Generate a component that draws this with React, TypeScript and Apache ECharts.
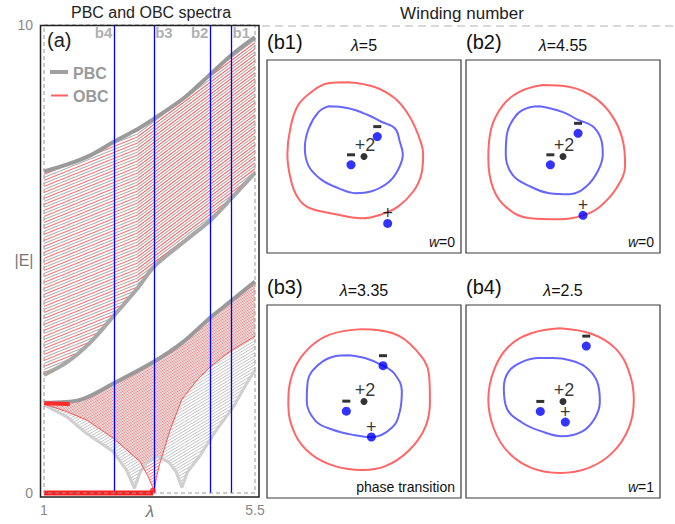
import React, { useEffect, useRef } from 'react';
import * as echarts from 'echarts';

// ---------------- panel (a): spectra ----------------
const lambdaTicks = [1, 5.5];
const energyTicks = [0, 10];
const markLambdas = [5, 4.55, 3.35, 2.5];
const markNames = ['b1', 'b2', 'b3', 'b4'];
const markLabelE = 9.83;

// upper band (PBC + OBC)
const band1Upper = [[1, 6.87], [1.5, 7.02], [2, 7.22], [2.5, 7.51], [3, 7.78], [3.35, 8.0], [4, 8.45], [4.55, 8.95], [5, 9.36], [5.5, 9.74]];
const band1Lower = [[1, 2.52], [1.5, 2.8], [2, 3.23], [2.5, 3.8], [3, 4.38], [3.35, 4.84], [4, 5.38], [4.55, 5.83], [5, 6.3], [5.5, 6.84]];
// lower band
const band2Upper = [[1, 1.93], [1.77, 1.99], [2.5, 2.35], [3.35, 2.81], [3.97, 3.23], [4.55, 3.75], [5, 4.11], [5.5, 4.52]];
const band2PbcLower = [[1, 1.88], [1.48, 1.63], [1.91, 1.27], [2.48, 0.88], [2.76, 0.49], [2.93, 0.1], [3.05, 0.45], [3.2, 0.66], [3.43, 0.78], [3.66, 0.66], [3.82, 0.45], [3.94, 0.12], [4.06, 0.45], [4.33, 0.8], [4.68, 1.35], [5.04, 1.84], [5.36, 2.41], [5.5, 2.62]];
const band2ObcLower = [[1, 1.9], [1.48, 1.74], [1.91, 1.56], [2.48, 1.17], [3.05, 0.67], [3.22, 0.35], [3.35, 0.05], [3.4, 0.35], [3.47, 0.63], [3.69, 1.35], [3.94, 2.0], [4.26, 2.41], [4.55, 2.7], [5, 3.05], [5.5, 3.35]];
const obcBunch = [[1, 1.92], [1.55, 1.9]];
const obcZeroModes = [[1, 0], [3.33, 0]];
const obcZeroEnd = [[3.32, 0.05]];

// ---------------- panels (b1)-(b4): winding ----------------
const panelNames = ['(b1)', '(b2)', '(b3)', '(b4)'];
const panelLambdas = ['5', '4.55', '3.35', '2.5'];
const panelNotes = ['w=0', 'w=0', 'phase transition', 'w=1'];

const b1Red = [[-0.16, 0.77], [0.11, 0.72], [0.32, 0.6], [0.46, 0.43], [0.56, 0.22], [0.61, 0.02], [0.59, -0.19], [0.51, -0.36], [0.35, -0.52], [0.18, -0.6], [-0.02, -0.64], [-0.33, -0.59], [-0.57, -0.53], [-0.68, -0.43], [-0.75, -0.26], [-0.79, 0.02], [-0.76, 0.29], [-0.68, 0.53], [-0.54, 0.67], [-0.37, 0.76]];
const b1Blue = [[-0.37, 0.52], [-0.16, 0.5], [0.04, 0.43], [0.18, 0.36], [0.32, 0.29], [0.37, 0.15], [0.4, 0.02], [0.35, -0.14], [0.25, -0.27], [0.08, -0.36], [-0.09, -0.38], [-0.26, -0.33], [-0.44, -0.24], [-0.57, -0.1], [-0.61, 0.09], [-0.57, 0.29], [-0.47, 0.46]];
const b2Red = [[-0.21, 0.74], [0.07, 0.72], [0.34, 0.6], [0.52, 0.4], [0.62, 0.15], [0.64, -0.09], [0.55, -0.33], [0.38, -0.52], [0.21, -0.61], [-0.03, -0.65], [-0.34, -0.64], [-0.58, -0.53], [-0.72, -0.33], [-0.77, -0.02], [-0.74, 0.29], [-0.62, 0.53], [-0.45, 0.67]];
const b2Blue = [[-0.24, 0.52], [0, 0.46], [0.155, 0.38], [0.31, 0.31], [0.4, 0.15], [0.41, 0.02], [0.36, -0.15], [0.24, -0.31], [0.07, -0.39], [-0.14, -0.38], [-0.34, -0.31], [-0.52, -0.19], [-0.59, 0.02], [-0.58, 0.22], [-0.48, 0.43], [-0.34, 0.51]];
const b3Red = [[-0.02, 0.75], [0.29, 0.71], [0.53, 0.54], [0.67, 0.28], [0.68, 0.0], [0.63, -0.27], [0.46, -0.51], [0.22, -0.67], [-0.02, -0.71], [-0.3, -0.67], [-0.54, -0.55], [-0.71, -0.34], [-0.78, -0.03], [-0.74, 0.28], [-0.6, 0.52], [-0.36, 0.69]];
const b3Blue = [[-0.16, 0.48], [0.01, 0.45], [0.2, 0.37], [0.32, 0.28], [0.39, 0.11], [0.37, -0.1], [0.29, -0.27], [0.08, -0.37], [-0.09, -0.35], [-0.33, -0.29], [-0.5, -0.2], [-0.59, 0.0], [-0.58, 0.21], [-0.47, 0.38], [-0.3, 0.47]];
const b4Red = [[-0.03, 0.76], [0.3, 0.7], [0.54, 0.55], [0.68, 0.31], [0.73, 0.02], [0.68, -0.27], [0.51, -0.53], [0.26, -0.69], [-0.03, -0.74], [-0.32, -0.69], [-0.56, -0.53], [-0.71, -0.29], [-0.77, 0.02], [-0.71, 0.33], [-0.56, 0.57], [-0.32, 0.71]];
const b4Blue = [[-0.11, 0.45], [0.06, 0.43], [0.23, 0.36], [0.35, 0.21], [0.38, 0.0], [0.33, -0.17], [0.2, -0.31], [-0.01, -0.36], [-0.22, -0.31], [-0.42, -0.22], [-0.58, -0.07], [-0.61, 0.14], [-0.56, 0.31], [-0.42, 0.41], [-0.25, 0.45]];
const redLoops = [b1Red, b2Red, b3Red, b4Red];
const blueLoops = [b1Blue, b2Blue, b3Blue, b4Blue];
const minusZeros = [
  [[0.137, 0.206], [-0.134, -0.086]],
  [[0.155, 0.24], [-0.13, -0.086]],
  [[0.196, 0.371], [-0.182, -0.1]],
  [[0.24, 0.574], [-0.234, -0.103]],
];
const plusZeros = [[[0.244, -0.694]], [[0.206, -0.61]], [[0.076, -0.368]], [[0.024, -0.213]]];
const centerPole = [0, 0];
const centerPoleLabel = '+2';

const FONT = 'Liberation Sans, Arial, Helvetica, sans-serif';

function stripe(specs: { color: string; offset: number; width: number }[], tileW: number, tileH: number) {
  const c = document.createElement('canvas');
  c.width = tileW;
  c.height = tileH;
  const ctx = c.getContext('2d');
  if (ctx) {
    for (const s of specs) {
      ctx.strokeStyle = s.color;
      ctx.lineWidth = s.width;
      for (const k of [-1, 0, 1]) {
        const y0 = tileH - s.offset + k * tileH;
        ctx.beginPath();
        ctx.moveTo(0, y0);
        ctx.lineTo(tileW, y0 - tileH);
        ctx.stroke();
      }
    }
  }
  return { image: c, repeat: 'repeat', imageWidth: tileW, imageHeight: tileH } as any;
}

function closed(pts: number[][]) {
  return [...pts, pts[0]];
}

function buildOption() {
  const band1LeftFill = stripe([
    { color: 'rgba(255,75,75,0.8)', offset: 0, width: 1.15 },
    { color: 'rgba(150,150,150,0.75)', offset: 3, width: 1.15 },
  ], 15, 6);
  const band1RightFill = stripe([
    { color: 'rgba(255,75,75,0.85)', offset: 0, width: 1.15 },
    { color: 'rgba(150,150,150,0.75)', offset: 3, width: 1.15 },
  ], 8, 6);
  const band2Gray = stripe([{ color: 'rgba(175,175,175,0.75)', offset: 1.5, width: 1 }], 5, 3);
  const band2Red = stripe([{ color: 'rgba(255,75,75,0.8)', offset: 0, width: 0.9 }], 5, 3);

  const poly = (pts: number[][], fill: any, z: number) => ({
    type: 'custom',
    xAxisIndex: 0,
    yAxisIndex: 0,
    z,
    silent: true,
    data: [[pts[0][0], pts[0][1]]],
    renderItem: (_p: any, api: any) => ({
      type: 'polygon',
      shape: { points: pts.map((p) => api.coord(p)) },
      style: { fill, stroke: 'none' },
    }),
  });
  const edge = (pts: number[][], color: string, width: number, smooth: any, z: number) => ({
    type: 'line',
    xAxisIndex: 0,
    yAxisIndex: 0,
    data: pts,
    symbol: 'none',
    smooth,
    clip: false,
    z,
    silent: true,
    lineStyle: { color, width },
  });

  const splitAt = 3;
  const b1UL = band1Upper.filter((p) => p[0] <= splitAt);
  const b1LL = band1Lower.filter((p) => p[0] <= splitAt);
  const b1UR = band1Upper.filter((p) => p[0] >= splitAt);
  const b1LR = band1Lower.filter((p) => p[0] >= splitAt);

  const series: any[] = [
    poly([...b1UL, ...b1LL.slice().reverse()], band1LeftFill, 1),
    poly([...b1UR, ...b1LR.slice().reverse()], band1RightFill, 1),
    poly([...band2Upper, ...band2PbcLower.slice().reverse()], band2Gray, 1),
    poly([...band2Upper, ...band2ObcLower.slice().reverse()], band2Red, 2),
    edge(band1Upper, '#9a9a9a', 4, 0.3, 3),
    edge(band1Lower, '#a8a8a8', 4, 0.3, 3),
    edge(band2Upper, '#9a9a9a', 4, 0.3, 3),
    edge(band2PbcLower, '#cfcfcf', 3, false, 3),
    edge(band2ObcLower, 'rgba(255,70,70,0.9)', 1, false, 4),
    edge(obcBunch, '#ff2a2a', 4, false, 5),
    edge(obcZeroModes, '#ff2020', 5, false, 5),
    {
      type: 'scatter', xAxisIndex: 0, yAxisIndex: 0, data: obcZeroEnd, symbolSize: 6, z: 5,
      itemStyle: { color: '#ff2020' }, silent: true,
    },
    {
      type: 'line', xAxisIndex: 0, yAxisIndex: 0, data: [], z: 6,
      markLine: {
        symbol: 'none', silent: true, animation: false,
        lineStyle: { color: '#0000ff', width: 1.3, type: 'solid' },
        label: { show: false },
        data: markLambdas.map((l) => ({ xAxis: l })),
      },
    },
    {
      type: 'scatter', xAxisIndex: 0, yAxisIndex: 0, symbolSize: 0, z: 7, silent: true,
      data: markLambdas.map((l, i) => ({
        value: [l, markLabelE],
        name: markNames[i],
        label: { position: i % 2 === 0 ? 'right' : 'left', distance: i % 2 === 0 ? 1 : 2 },
      })),
      label: {
        show: true, formatter: '{b}', color: '#9a9a9a', fontWeight: 'bold', fontSize: 15, fontFamily: FONT,
      },
    },
  ];

  const grids: any[] = [
    { left: 44, top: 25, width: 211, height: 468, show: false },
    { left: 267, top: 60, width: 194, height: 193 },
    { left: 466, top: 60, width: 194, height: 193 },
    { left: 267, top: 305, width: 194, height: 193 },
    { left: 466, top: 305, width: 194, height: 193 },
  ];
  grids.forEach((g) => Object.assign(g, { outerBoundsMode: 'none', containLabel: false }));
  for (let i = 1; i < 5; i++) {
    Object.assign(grids[i], { show: true, borderColor: '#3a3a3a', borderWidth: 1.2, backgroundColor: 'transparent' });
  }

  const xAxes: any[] = [
    {
      type: 'value', gridIndex: 0, min: 1, max: 5.5,
      axisLine: { show: false }, axisTick: { show: false }, splitLine: { show: false },
      axisLabel: {
        customValues: lambdaTicks, showMinLabel: true, showMaxLabel: true,
        color: '#888', fontSize: 14, fontFamily: FONT, margin: 10,
        formatter: (v: number) => String(v),
      },
    },
  ];
  const yAxes: any[] = [
    {
      type: 'value', gridIndex: 0, min: 0, max: 10,
      axisLine: { show: false }, axisTick: { show: false }, splitLine: { show: false },
      axisLabel: {
        customValues: energyTicks, showMinLabel: true, showMaxLabel: true,
        color: '#888', fontSize: 14, fontFamily: FONT, margin: 11,
        formatter: (v: number) => String(v),
      },
    },
  ];

  const graphics: any[] = [
    { type: 'rect', shape: { x: 44, y: 25, width: 211, height: 468 }, style: { fill: 'none', stroke: '#999', lineWidth: 1, lineDash: [4, 3] }, z: 50, silent: true },
    { type: 'rect', shape: { x: 40.5, y: 25.5, width: 218.5, height: 471.5 }, style: { fill: 'none', stroke: '#222', lineWidth: 1.5 }, z: 60, silent: true },
    { type: 'line', shape: { x1: 262, y1: 26, x2: 675, y2: 26 }, style: { stroke: '#cccccc', lineWidth: 1.5, lineDash: [8, 5] }, z: 60, silent: true },
    { type: 'text', x: 151, y: 12, style: { text: 'PBC and OBC spectra', fontSize: 16, fontFamily: FONT, fill: '#222', align: 'center', verticalAlign: 'middle' }, z: 60 },
    { type: 'text', x: 462, y: 13, style: { text: 'Winding number', fontSize: 17, fontFamily: FONT, fill: '#222', align: 'center', verticalAlign: 'middle' }, z: 60 },
    { type: 'text', x: 47, y: 40, style: { text: '(a)', fontSize: 20, fontFamily: FONT, fill: '#222', align: 'left', verticalAlign: 'middle' }, z: 60 },
    { type: 'text', x: 24, y: 260, style: { text: '|E|', fontSize: 16, fontFamily: FONT, fill: '#777', align: 'center', verticalAlign: 'middle' }, z: 60 },
    { type: 'text', x: 150, y: 511, style: { text: 'λ', fontSize: 17, fontStyle: 'italic', fontFamily: FONT, fill: '#777', align: 'center', verticalAlign: 'middle' }, z: 60 },
    { type: 'line', shape: { x1: 50, y1: 72, x2: 68, y2: 72 }, style: { stroke: '#a0a0a0', lineWidth: 4 }, z: 60 },
    { type: 'text', x: 73, y: 73, style: { text: 'PBC', fontSize: 16, fontWeight: 'bold', fontFamily: FONT, fill: '#9a9a9a', align: 'left', verticalAlign: 'middle' }, z: 60 },
    { type: 'line', shape: { x1: 51, y1: 95.5, x2: 68, y2: 95.5 }, style: { stroke: '#ff6060', lineWidth: 2 }, z: 60 },
    { type: 'text', x: 73, y: 96, style: { text: 'OBC', fontSize: 16, fontWeight: 'bold', fontFamily: FONT, fill: '#9a9a9a', align: 'left', verticalAlign: 'middle' }, z: 60 },
  ];

  for (let i = 0; i < 4; i++) {
    const g = grids[i + 1];
    const gi = i + 1;
    xAxes.push({ type: 'value', gridIndex: gi, min: -1, max: 1, show: false });
    yAxes.push({ type: 'value', gridIndex: gi, min: -1, max: 1, show: false });
    const cx = g.left + g.width / 2;
    const headY = g.top - 16;
    graphics.push(
      { type: 'text', x: g.left, y: headY - 2, style: { text: panelNames[i], fontSize: 20, fontFamily: FONT, fill: '#111', align: 'left', verticalAlign: 'middle' }, z: 60 },
      {
        type: 'text', x: cx, y: headY + 1,
        style: {
          text: '{i|λ}=' + panelLambdas[i], fontSize: 16, fontFamily: FONT, fill: '#111', align: 'center', verticalAlign: 'middle',
          rich: { i: { fontStyle: 'italic', fontSize: 16, fontFamily: FONT, fill: '#111' } },
        }, z: 60,
      },
    );
    const note = panelNotes[i];
    const noteText = note.startsWith('w=') ? '{i|w}' + note.slice(1) : note;
    graphics.push({
      type: 'text', x: g.left + g.width - 6, y: g.top + g.height - 11,
      style: {
        text: noteText, fontSize: 14, fontFamily: FONT, fill: '#111', align: 'right', verticalAlign: 'middle',
        rich: { i: { fontStyle: 'italic', fontSize: 14, fontFamily: FONT, fill: '#111' } },
      }, z: 60,
    });

    series.push(
      {
        type: 'line', xAxisIndex: gi, yAxisIndex: gi, data: closed(redLoops[i]), smooth: 0.4, symbol: 'none', silent: true, z: 3,
        lineStyle: { color: '#ff6666', width: 2 },
      },
      {
        type: 'line', xAxisIndex: gi, yAxisIndex: gi, data: closed(blueLoops[i]), smooth: 0.4, symbol: 'none', silent: true, z: 3,
        lineStyle: { color: '#6666ff', width: 2 },
      },
      {
        type: 'scatter', xAxisIndex: gi, yAxisIndex: gi, data: minusZeros[i], symbol: 'rect', symbolSize: [8, 3], symbolOffset: [0, -10],
        itemStyle: { color: '#000' }, silent: true, z: 4,
      },
      {
        type: 'scatter', xAxisIndex: gi, yAxisIndex: gi, data: minusZeros[i], symbolSize: 9,
        itemStyle: { color: '#0000ff' }, silent: true, z: 5,
      },
      {
        type: 'scatter', xAxisIndex: gi, yAxisIndex: gi, data: plusZeros[i], symbolSize: 9,
        itemStyle: { color: '#0000ff' }, silent: true, z: 5,
        label: { show: true, formatter: '+', position: 'top', distance: -3, fontSize: 18, color: '#000', fontFamily: FONT },
      },
      {
        type: 'scatter', xAxisIndex: gi, yAxisIndex: gi, data: [centerPole], symbolSize: 7,
        itemStyle: { color: '#000' }, silent: true, z: 5,
        label: { show: true, formatter: centerPoleLabel, position: 'top', distance: -1, offset: [1, 0], fontSize: 18, color: '#000', fontFamily: FONT },
      },
    );
  }

  return {
    animation: false,
    backgroundColor: '#fff',
    textStyle: { fontFamily: FONT },
    grid: grids,
    xAxis: xAxes,
    yAxis: yAxes,
    series,
    graphic: { elements: graphics },
  };
}

export default function App() {
  const ref = useRef<HTMLDivElement>(null);
  useEffect(() => {
    if (!ref.current) return;
    const chart = echarts.init(ref.current, null, { renderer: 'svg' });
    chart.setOption(buildOption() as any);
    return () => chart.dispose();
  }, []);
  return <div ref={ref} style={{ position: 'fixed', left: 0, top: 0, width: 675, height: 524 }} />;
}
